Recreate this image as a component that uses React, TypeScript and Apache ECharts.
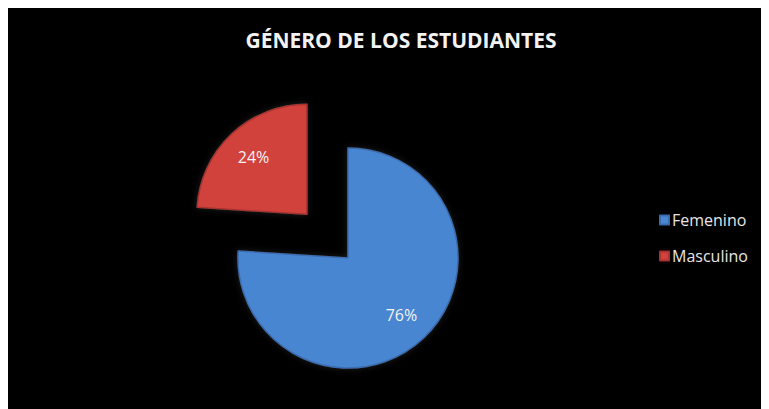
import React, { useEffect, useRef } from "react";
import * as echarts from "echarts";

const categories = ["Femenino", "Masculino"];
const values = [76, 24];
const labels = ["76%", "24%"];
const colors = ["#4a86d2", "#d2433e"];
const edgeColors = ["#3a6db0", "#a8322f"];

export default function App() {
  const ref = useRef<HTMLDivElement>(null);
  useEffect(() => {
    if (!ref.current) return;
    const chart = echarts.init(ref.current, undefined, { renderer: "svg" });
    const mkData = (withColor: boolean) =>
      categories.map((name, i) => ({
        name,
        value: values[i],
        selected: name === "Masculino",
        label: { formatter: labels[i] },
        itemStyle: withColor
          ? { color: colors[i], borderColor: edgeColors[i], borderWidth: 1.5 }
          : { color: "rgba(0,0,0,0)", borderWidth: 0 },
      }));
    chart.setOption({
      animation: false,
      backgroundColor: "#000000",
      title: {
        text: "GÉNERO DE LOS ESTUDIANTES",
        left: 388,
        textAlign: "center",
        top: 16,
        textStyle: {
          color: "#f2f2f2",
          fontFamily: "Open Sans",
          fontWeight: "bold",
          fontSize: 21,
        },
      },
      legend: {
        orient: "vertical",
        left: 646,
        top: 199,
        itemWidth: 9,
        itemHeight: 9,
        itemGap: 20,
        icon: "rect",
        selectedMode: false,
        data: categories.map((name, i) => ({
          name,
          itemStyle: { color: colors[i] },
        })),
        textStyle: { color: "#e6e6e6", fontFamily: "Open Sans", fontSize: 16, padding: [0, 0, 0, -2] },
      },
      series: [
        {
          type: "pie",
          center: [340, 250],
          radius: 110,
          startAngle: 90,
          clockwise: true,
          selectedMode: "single",
          selectedOffset: 60,
          label: { show: false },
          labelLine: { show: false },
          emphasis: { disabled: true },
          itemStyle: { shadowBlur: 6, shadowColor: "rgba(255,255,255,0.12)" },
          data: mkData(true),
        },
        {
          type: "pie",
          center: [340, 250],
          radius: 150,
          startAngle: 90,
          clockwise: true,
          selectedMode: "single",
          selectedOffset: 60,
          silent: true,
          legendHoverLink: false,
          label: {
            show: true,
            position: "inside",
            color: "#f4f4f4",
            fontFamily: "Open Sans",
            fontSize: 16,
          },
          labelLine: { show: false },
          emphasis: { disabled: true },
          data: mkData(false),
        },
      ],
    });
    return () => chart.dispose();
  }, []);
  return <div ref={ref} style={{ width: 761, height: 401 }} />;
}
